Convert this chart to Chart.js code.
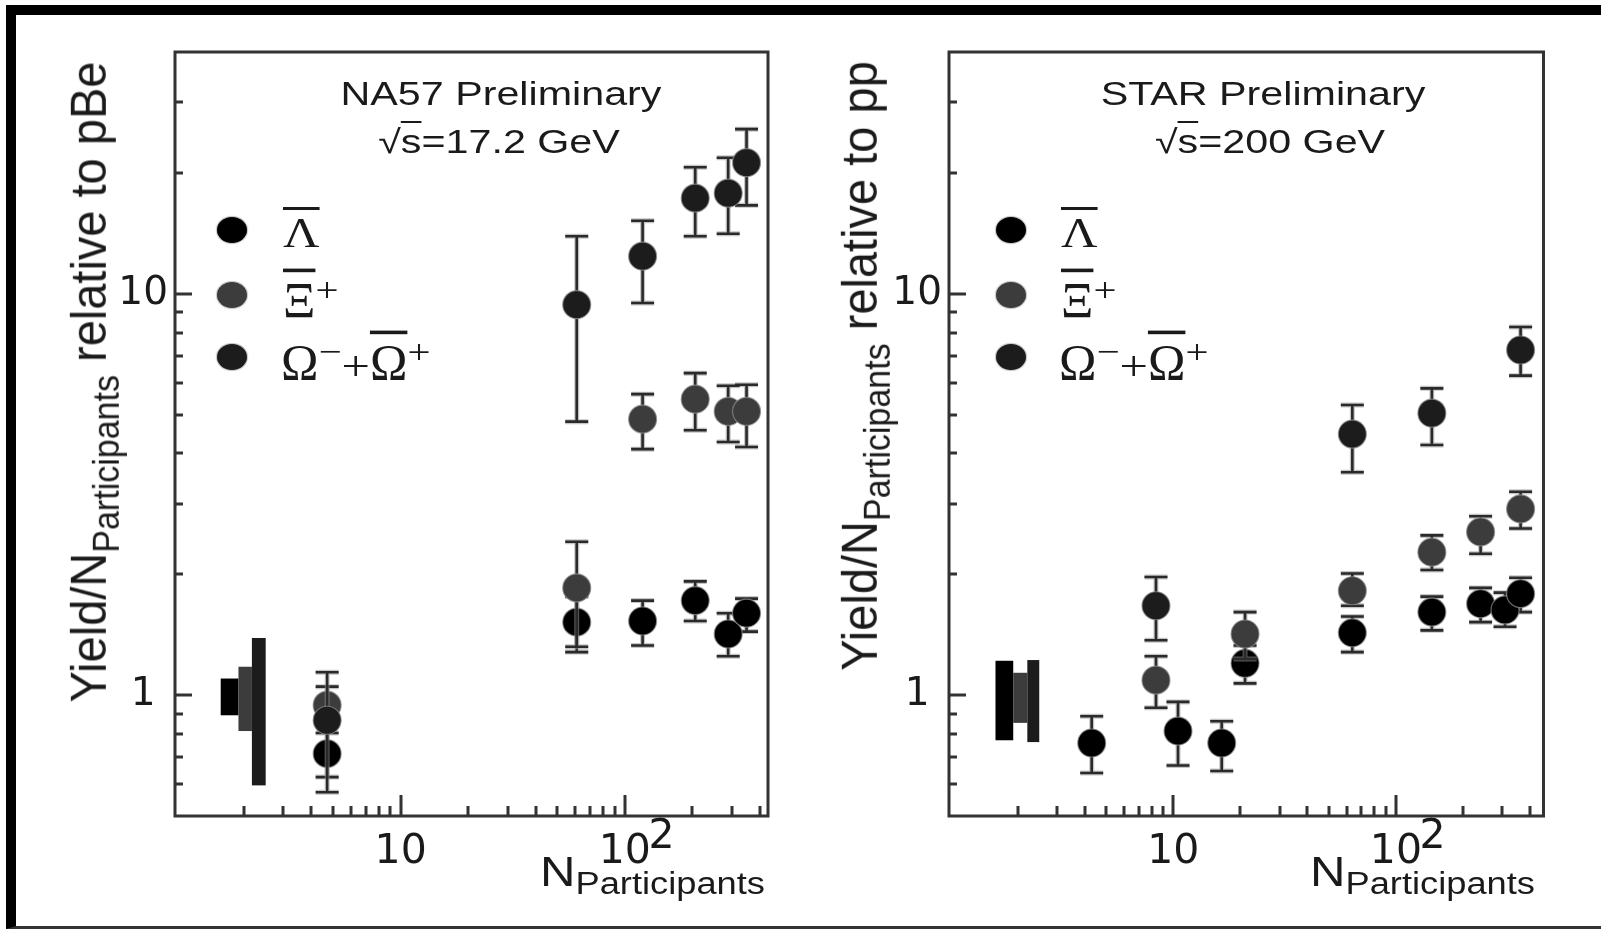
<!DOCTYPE html>
<html>
<head>
<meta charset="utf-8">
<title>Strange baryon enhancement</title>
<script src="https://cdn.jsdelivr.net/npm/chart.js@4.4.0/dist/chart.umd.min.js"></script>
<style>
  html, body { margin: 0; padding: 0; background: #fff; }
  body { width: 1601px; height: 931px; position: relative; overflow: hidden;
         font-family: "Liberation Sans", Arial, sans-serif; color: #1a1a1a; }
  #frame { position: absolute; left: 6px; top: 5px; width: 1600px; height: 911px;
           border-top: 10px solid #000; border-left: 10px solid #000; border-bottom: 3px solid #333; }
  canvas { position: absolute; top: 0; }
  #naChart { left: 0; }
  #starChart { left: 780px; }

  .note { position: absolute; font-size: 33px; line-height: 1; white-space: nowrap;
          transform: translateX(-50%) scaleX(1.25); }
  .ov { text-decoration: overline; text-decoration-thickness: 2px; }

  .ytitle { position: absolute; font-size: 47px; line-height: 46px; height: 46px; white-space: nowrap;
            transform: translate(-50%, -50%) rotate(-90deg) scaleY(1.08); }
  .ytitle .sub { font-size: 34px; vertical-align: -12px; line-height: 0; }

  .xtitle { position: absolute; font-size: 42px; line-height: 42px; white-space: nowrap;
            transform-origin: left top; transform: scaleX(1.17); }
  .xtitle .sub { font-size: 31px; position: relative; top: 8px; }

  .mark { position: absolute; width: 30px; height: 26px; border-radius: 50%;
          transform: translate(-50%, -50%); box-shadow: 0 0 1px 1px rgba(150,150,150,0.6); }
  .lbl { position: absolute; font-family: "Liberation Serif", "Times New Roman", serif; font-size: 42px;
         line-height: 1; white-space: nowrap; transform-origin: left top; transform: scaleX(1.2); }
  .lbl .ov { text-decoration-thickness: 3px; }
  .lbl .big { display: inline-block; transform-origin: left bottom; transform: scaleY(1.2); }
  .lbl sup { font-size: 34px; vertical-align: 0.5em; line-height: 0; }
</style>
</head>
<body>
<div id="frame"></div>
<canvas id="naChart" width="800" height="931"></canvas>
<canvas id="starChart" width="821" height="931"></canvas>

<!-- NA57 panel text -->
<div class="note" style="left:501px; top:77px">NA57 Preliminary</div>
<div class="note" style="left:499px; top:125px">√<span class="ov">s</span>=17.2 GeV</div>
<div class="ytitle" style="left:89px; top:382px">Yield/N<span class="sub">Participants</span> relative to pBe</div>
<div class="xtitle" style="left:540px; top:851px">N<span class="sub">Participants</span></div>

<div class="mark" style="left:232px; top:230px; background:#000"></div>
<div class="mark" style="left:232px; top:295px; background:#3c3c3c"></div>
<div class="mark" style="left:232px; top:357px; background:#1c1c1c"></div>
<div class="lbl" style="left:283px; top:212px"><span class="ov">Λ</span></div>
<div class="lbl" style="left:283px; top:283px"><span class="ov big">Ξ</span><sup>+</sup></div>
<div class="lbl" style="left:281px; top:345px"><span class="big">Ω</span><sup>−</sup>+<span class="ov big">Ω</span><sup>+</sup></div>

<!-- STAR panel text -->
<div class="note" style="left:1263px; top:77px">STAR Preliminary</div>
<div class="note" style="left:1270px; top:125px">√<span class="ov">s</span>=200 GeV</div>
<div class="ytitle" style="left:860px; top:366px">Yield/N<span class="sub">Participants</span> relative to pp</div>
<div class="xtitle" style="left:1310px; top:851px">N<span class="sub">Participants</span></div>

<div class="mark" style="left:1011px; top:230px; background:#000"></div>
<div class="mark" style="left:1011px; top:295px; background:#3c3c3c"></div>
<div class="mark" style="left:1011px; top:357px; background:#1c1c1c"></div>
<div class="lbl" style="left:1061px; top:212px"><span class="ov">Λ</span></div>
<div class="lbl" style="left:1061px; top:283px"><span class="ov big">Ξ</span><sup>+</sup></div>
<div class="lbl" style="left:1059px; top:345px"><span class="big">Ω</span><sup>−</sup>+<span class="ov big">Ω</span><sup>+</sup></div>

<script>
// NA57, Pb-Pb at 17.2 GeV, yields per participant relative to p-Be
const naNpart = [4.7, 61, 120, 206, 289, 349];
const naLambda   = [0.715, 1.52, 1.53, 1.72, 1.42, 1.60];
const naLambdaLo = [0.625, 1.28, 1.33, 1.53, 1.25, 1.44];
const naLambdaHi = [0.805, 1.76, 1.72, 1.92, 1.60, 1.74];
const naXi   = [0.944, 1.85, 4.87, 5.46, 5.09, 5.09];
const naXiLo = [0.84, 1.32, 4.10, 4.57, 4.27, 4.15];
const naXiHi = [1.05, 2.41, 5.62, 6.34, 5.90, 5.93];
const naOmega   = [0.866, 9.39, 12.4, 17.3, 17.8, 21.2];
const naOmegaLo = [0.573, 4.80, 9.48, 13.9, 14.1, 16.6];
const naOmegaHi = [1.14, 13.9, 15.2, 20.65, 21.8, 25.7];

// STAR, Au-Au at 200 GeV, relative to pp
const starLambdaN  = [4.3, 10.5, 16.5, 21, 63.7, 145, 240, 309, 363];
const starLambda   = [0.76, 0.814, 0.76, 1.20, 1.43, 1.61, 1.69, 1.63, 1.79];
const starLambdaLo = [0.64, 0.668, 0.647, 1.07, 1.28, 1.45, 1.52, 1.48, 1.61];
const starLambdaHi = [0.886, 0.962, 0.861, 1.33, 1.57, 1.76, 1.85, 1.80, 1.96];
const starXiN  = [8.36, 21, 63.7, 145, 240, 363];
const starXi   = [1.09, 1.42, 1.82, 2.27, 2.55, 2.91];
const starXiLo = [0.93, 1.23, 1.67, 2.05, 2.25, 2.60];
const starXiHi = [1.25, 1.61, 2.01, 2.50, 2.79, 3.21];
const starOmegaN  = [8.36, 63.7, 145, 363];
const starOmega   = [1.67, 4.47, 5.04, 7.24];
const starOmegaLo = [1.37, 3.59, 4.20, 6.25];
const starOmegaHi = [1.97, 5.28, 5.81, 8.26];

// reference normalisation uncertainty (Λ, Ξ, Ω), shown as boxes around 1
const naSysN  = [[1.575, 1.89], [1.89, 2.17], [2.17, 2.50]];
const naSysLo = [0.891, 0.814, 0.596];
const naSysHi = [1.10, 1.177, 1.388];
const starSysN  = [[1.59, 1.91], [1.91, 2.21], [2.21, 2.50]];
const starSysLo = [0.772, 0.853, 0.764];
const starSysHi = [1.218, 1.137, 1.223];

// axis ticks; the x labels are two lines so the exponent sits above and right of "10"
const xLabelTicks = [10, 100];
const xTickText = [['', '10'], ['     \u20092', '10']];
const yLabelTicks = [1, 10];
const yTickText = ['1 ', '10'];
const majorX = [10, 100];
const minorX = [2, 3, 4, 5, 6, 7, 8, 9, 20, 30, 40, 50, 60, 70, 80, 90, 200, 300, 400];
const majorY = [1, 10];
const minorY = [0.6, 0.7, 0.8, 0.9, 2, 3, 4, 5, 6, 7, 8, 9, 20, 30];

const colors = ['#000000', '#3c3c3c', '#1c1c1c'];

const sysBoxes = {
    id: 'sysBoxes',
    beforeDatasetsDraw(chart, args, opts) {
        const { ctx, scales: { x, y } } = chart;
        ctx.save();
        opts.n.forEach((range, i) => {
            const x0 = x.getPixelForValue(range[0]);
            const x1 = x.getPixelForValue(range[1]);
            const y0 = y.getPixelForValue(opts.hi[i]);
            const y1 = y.getPixelForValue(opts.lo[i]);
            ctx.fillStyle = colors[i];
            ctx.fillRect(x0, y0, x1 - x0, y1 - y0);
        });
        ctx.restore();
    }
};

const frameTicks = {
    id: 'frameTicks',
    beforeDatasetsDraw(chart) {
        const { ctx, chartArea: a, scales: { x, y } } = chart;
        ctx.save();
        ctx.strokeStyle = '#333';
        ctx.lineWidth = 3;
        ctx.strokeRect(a.left, a.top, a.right - a.left, a.bottom - a.top);
        ctx.beginPath();
        const xt = (v, len) => {
            const px = Math.round(x.getPixelForValue(v));
            ctx.moveTo(px, a.bottom);
            ctx.lineTo(px, a.bottom - len);
        };
        const yt = (v, len) => {
            const py = Math.round(y.getPixelForValue(v));
            ctx.moveTo(a.left, py);
            ctx.lineTo(a.left + len, py);
        };
        majorX.forEach(v => xt(v, 21));
        minorX.forEach(v => xt(v, 10));
        majorY.forEach(v => yt(v, 17));
        minorY.forEach(v => yt(v, 8));
        ctx.stroke();
        ctx.restore();
    }
};

// vertical error bars with caps, drawn just before each dataset's markers
const errorBars = {
    id: 'errorBars',
    beforeDatasetDraw(chart, args) {
        const ds = chart.data.datasets[args.index];
        if (!ds.errLow) return;
        const { ctx, scales: { x, y } } = chart;
        ctx.save();
        const path = () => {
            ctx.beginPath();
            ds.data.forEach((p, i) => {
                const px = x.getPixelForValue(p.x);
                const top = y.getPixelForValue(ds.errHigh[i]);
                const bot = y.getPixelForValue(ds.errLow[i]);
                ctx.moveTo(px, top);
                ctx.lineTo(px, bot);
                ctx.moveTo(px - 11.5, top);
                ctx.lineTo(px + 11.5, top);
                ctx.moveTo(px - 11.5, bot);
                ctx.lineTo(px + 11.5, bot);
            });
        };
        path();
        ctx.strokeStyle = 'rgba(150,150,150,0.55)';
        ctx.lineWidth = 5;
        ctx.stroke();
        path();
        ctx.strokeStyle = '#2a2a2a';
        ctx.lineWidth = 2.6;
        ctx.stroke();
        ctx.restore();
    }
};

function series(label, n, v, lo, hi, color, order) {
    return {
        label: label,
        data: n.map((nx, i) => ({ x: nx, y: v[i] })),
        errLow: lo,
        errHigh: hi,
        backgroundColor: color,
        borderColor: 'rgba(140,140,140,0.75)',
        borderWidth: 1.2,
        pointRadius: 14,
        pointHoverRadius: 14,
        order: order
    };
}

function drawPanel(id, cfg) {
    return new Chart(document.getElementById(id), {
        type: 'scatter',
        data: { datasets: cfg.datasets },
        options: {
            responsive: false,
            animation: false,
            devicePixelRatio: 1,
            events: [],
            layout: { padding: { top: 52, right: cfg.padRight, bottom: 0, left: 0 } },
            plugins: {
                legend: { display: false },
                tooltip: { enabled: false },
                sysBoxes: { n: cfg.sysN, lo: cfg.sysLo, hi: cfg.sysHi }
            },
            scales: {
                x: {
                    type: 'logarithmic',
                    bounds: 'data',
                    min: cfg.xMin,
                    max: cfg.xMax,
                    grid: { display: false, drawTicks: false },
                    border: { display: false },
                    afterBuildTicks: s => { s.ticks = xLabelTicks.map(v => ({ value: v })); },
                    afterFit: s => { s.height = 115; },
                    ticks: {
                        autoSkip: false,
                        maxRotation: 0,
                        padding: 14,
                        color: '#1a1a1a',
                        font: { family: 'DejaVu Sans', size: 41, lineHeight: '15px' },
                        callback: v => xTickText[xLabelTicks.indexOf(v)] || ''
                    }
                },
                y: {
                    type: 'logarithmic',
                    bounds: 'data',
                    min: 0.5,
                    max: 40,
                    grid: { display: false, drawTicks: false },
                    border: { display: false },
                    afterBuildTicks: s => { s.ticks = yLabelTicks.map(v => ({ value: v })); },
                    afterFit: s => { s.width = cfg.yWidth; },
                    ticks: {
                        autoSkip: false,
                        padding: 7,
                        color: '#1a1a1a',
                        font: { family: 'DejaVu Sans', size: 39 },
                        callback: v => yTickText[yLabelTicks.indexOf(v)] || ''
                    }
                }
            }
        },
        plugins: [sysBoxes, frameTicks, errorBars]
    });
}

drawPanel('naChart', {
    xMin: 0.985, xMax: 435, yWidth: 175, padRight: 32,
    sysN: naSysN, sysLo: naSysLo, sysHi: naSysHi,
    datasets: [
        series('anti-Lambda', naNpart, naLambda, naLambdaLo, naLambdaHi, colors[0], 3),
        series('anti-Xi+', naNpart, naXi, naXiLo, naXiHi, colors[1], 2),
        series('Omega', naNpart, naOmega, naOmegaLo, naOmegaHi, colors[2], 1)
    ]
});

drawPanel('starChart', {
    xMin: 0.983, xMax: 460, yWidth: 169, padRight: 57.5,
    sysN: starSysN, sysLo: starSysLo, sysHi: starSysHi,
    datasets: [
        series('anti-Lambda', starLambdaN, starLambda, starLambdaLo, starLambdaHi, colors[0], 3),
        series('anti-Xi+', starXiN, starXi, starXiLo, starXiHi, colors[1], 2),
        series('Omega', starOmegaN, starOmega, starOmegaLo, starOmegaHi, colors[2], 1)
    ]
});
</script>
</body>
</html>
